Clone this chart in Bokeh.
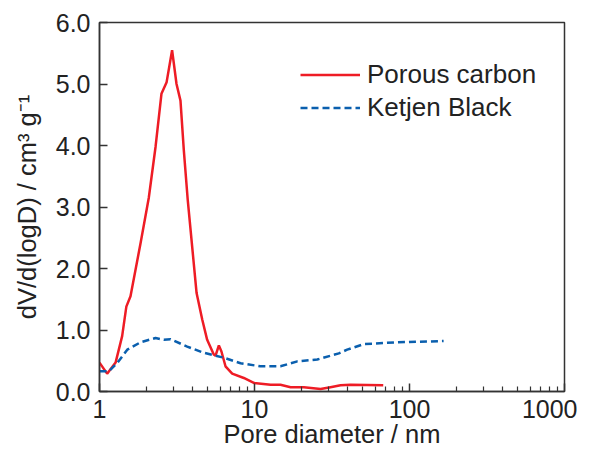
from bokeh.plotting import figure
from bokeh.models import FixedTicker, Legend, LegendItem, Range1d, PrintfTickFormatter
from bokeh.embed import file_html
from bokeh.resources import INLINE

# Porous carbon (pore diameter nm, dV/d(logD))
pc_x = [1.0, 1.12, 1.27, 1.40, 1.49, 1.585, 1.84, 2.08, 2.30, 2.51, 2.71, 2.94, 3.14, 3.33,
        3.50, 3.71, 4.23, 4.60, 4.95, 5.46, 5.6, 5.89, 6.12, 6.50, 7.18, 8.53, 9.9, 12.7,
        14.7, 17.1, 20.8, 26.7, 30.9, 35.9, 41.6, 67.7]
pc_y = [0.47, 0.29, 0.47, 0.90, 1.38, 1.55, 2.41, 3.15, 3.98, 4.84, 5.03, 5.55, 5.00, 4.73,
        3.92, 3.11, 1.60, 1.17, 0.84, 0.60, 0.58, 0.75, 0.65, 0.41, 0.29, 0.22, 0.14, 0.11,
        0.11, 0.07, 0.07, 0.04, 0.07, 0.10, 0.11, 0.10]

# Ketjen Black
kb_x = [1.0, 1.15, 1.30, 1.51, 1.84, 2.30, 2.60, 2.87, 3.68, 4.70, 6.34, 8.13, 10.9, 14.7,
        18.9, 25.4, 35.0, 39.6, 50.7, 83.3, 166]
kb_y = [0.33, 0.33, 0.46, 0.68, 0.80, 0.87, 0.84, 0.85, 0.73, 0.63, 0.55, 0.46, 0.41, 0.41,
        0.49, 0.52, 0.62, 0.68, 0.77, 0.80, 0.82]

x_ticks = [1, 10, 100, 1000]
x_tick_labels = ["1", "10", "100", "1000"]
y_ticks = [0, 1, 2, 3, 4, 5, 6]

FONT = "Liberation Sans"
AX = "#333333"
TXT = "#222222"

p = figure(width=577, height=450, x_axis_type="log", output_backend="svg",
           toolbar_location=None, x_range=Range1d(1, 1000), y_range=Range1d(0, 6),
           min_border_left=99, min_border_top=22, min_border_right=13, min_border_bottom=58)
p.grid.visible = False
p.outline_line_color = AX
p.outline_line_width = 1.5
p.background_fill_color = "white"
p.border_fill_color = "white"

minors = [m * d for d in [1, 10, 100] for m in range(2, 10)]
p.xaxis.ticker = FixedTicker(ticks=x_ticks, minor_ticks=minors)
p.xaxis.major_label_overrides = {t: l for t, l in zip(x_ticks, x_tick_labels)}
p.yaxis.ticker = FixedTicker(ticks=y_ticks)
p.yaxis.formatter = PrintfTickFormatter(format="%.1f")

for ax in (p.xaxis, p.yaxis):
    ax.axis_line_color = AX
    ax.axis_line_width = 1.5
    ax.major_tick_line_color = AX
    ax.minor_tick_line_color = AX
    ax.major_tick_line_width = 1.5
    ax.minor_tick_line_width = 1.2
    ax.major_tick_in = 8
    ax.major_tick_out = 0
    ax.minor_tick_in = 5
    ax.minor_tick_out = 0
    ax.major_label_text_font = FONT
    ax.major_label_text_font_size = "25px"
    ax.major_label_text_color = TXT
    ax.axis_label_text_font = FONT
    ax.axis_label_text_font_size = "25.5px"
    ax.axis_label_text_font_style = "normal"
    ax.axis_label_text_color = TXT

p.xaxis.major_label_standoff = 8
p.yaxis.major_label_standoff = 9
p.xaxis.axis_label = "Pore diameter / nm"
p.xaxis.axis_label_standoff = -1
p.yaxis.axis_label = "dV/d(logD) / cm³ g⁻¹"
p.yaxis.axis_label_standoff = 12
p.yaxis.minor_tick_line_color = None

r1 = p.line(pc_x, pc_y, line_color="#ee1c25", line_width=2.5)
r2 = p.line(kb_x, kb_y, line_color="#0a5fae", line_width=2.5, line_dash="7 4")

legend = Legend(items=[LegendItem(label="Porous carbon", renderers=[r1]),
                       LegendItem(label="Ketjen Black", renderers=[r2])],
                location=(201, 267), padding=0, margin=0, spacing=0,
                glyph_width=60, glyph_height=33, label_height=33, label_standoff=7,
                label_text_font=FONT, label_text_font_size="26px",
                label_text_color=TXT, border_line_color=None,
                background_fill_alpha=0)
p.add_layout(legend, "center")

open("out.html", "w").write(file_html(p, INLINE))
